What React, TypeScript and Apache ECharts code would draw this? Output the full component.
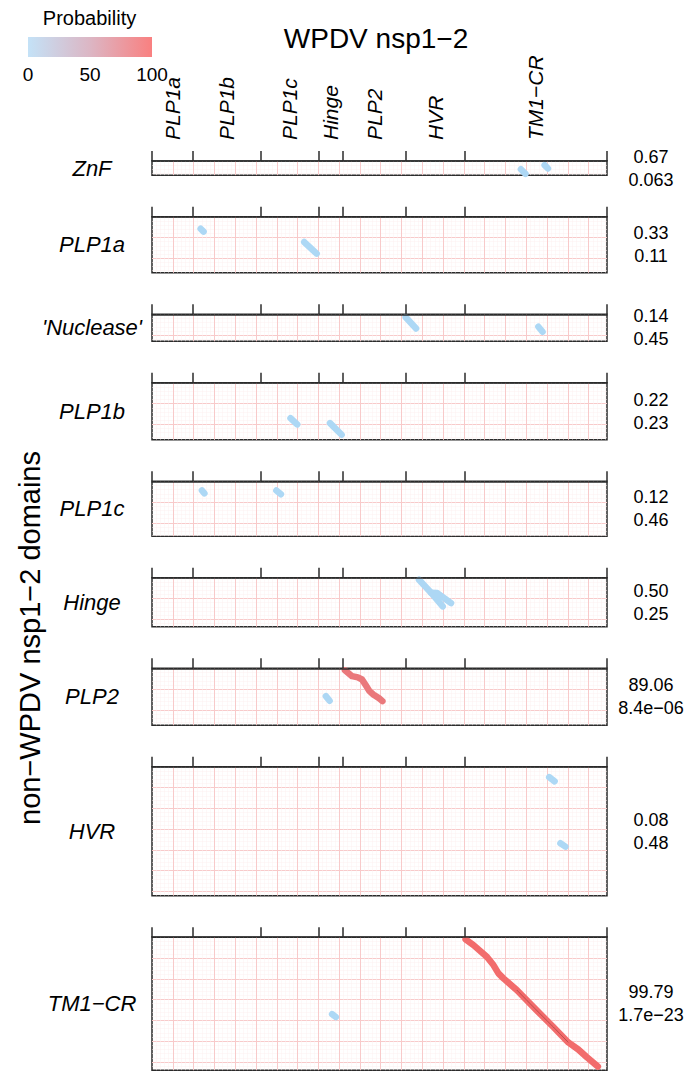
import React, { useEffect, useRef } from 'react';
import * as echarts from 'echarts';

// ---- data ----
const xDomains = ['PLP1a', 'PLP1b', 'PLP1c', 'Hinge', 'PLP2', 'HVR', 'TM1\u2212CR'];
const xBoundaries = [0, 99, 261, 402, 458, 610, 752, 1094];
const yDomains = ['ZnF', 'PLP1a', "'Nuclease'", 'PLP1b', 'PLP1c', 'Hinge', 'PLP2', 'HVR', 'TM1\u2212CR'];
const yLengths = [34, 135, 65, 137, 132, 118, 137, 310, 320];
const probabilities = ['0.67', '0.33', '0.14', '0.22', '0.12', '0.50', '89.06', '0.08', '99.79'];
const pValues = ['0.063', '0.11', '0.45', '0.23', '0.46', '0.25', '8.4e\u221206', '0.48', '1.7e\u221223'];
const legendTicks = [0, 50, 100];

const znfAlignments = [
  { prob: 0.67, points: [[887, 20], [898, 31]] },
  { prob: 0.67, points: [[944, 10], [952, 18]] },
];
const plp1aAlignments = [
  { prob: 0.33, points: [[117, 29], [124, 36]] },
  { prob: 0.33, points: [[366, 61], [396, 89]] },
];
const nucleaseAlignments = [
  { prob: 0.14, points: [[610, 7], [635, 34]] },
  { prob: 0.14, points: [[929, 30], [939, 42]] },
];
const plp1bAlignments = [
  { prob: 0.22, points: [[333, 85], [349, 100]] },
  { prob: 0.22, points: [[428, 97], [456, 125]] },
];
const plp1cAlignments = [
  { prob: 0.12, points: [[120, 22], [126, 29]] },
  { prob: 0.12, points: [[299, 22], [310, 31]] },
];
const hingeAlignments = [
  { prob: 0.5, points: [[642, 5], [671, 36], [699, 69]] },
  { prob: 0.5, points: [[671, 36], [686, 37], [719, 61]] },
];
const plp2Alignments = [
  { prob: 89.06, points: [[464, 5], [481, 19], [495, 22], [505, 27], [514, 41], [523, 55], [532, 63], [546, 72], [554, 79]] },
  { prob: 0.5, points: [[418, 67], [427, 78]] },
];
const hvrAlignments = [
  { prob: 0.08, points: [[955, 25], [968, 35]] },
  { prob: 0.08, points: [[982, 184], [994, 192]] },
];
const tm1Alignments = [
  { prob: 99.79, points: [[754, 5], [773, 19], [805, 47], [821, 67], [833, 87], [845, 99], [877, 127], [925, 176], [965, 216], [1001, 253], [1025, 270], [1045, 288], [1072, 311]] },
  { prob: 0.3, points: [[433, 185], [442, 192]] },
];
// thin raw dot-plot trace visible inside the strongest alignment
const tm1Trace = [[877, 127], [925, 176], [965, 216], [1001, 253]];

const panelAlignments = [
  znfAlignments, plp1aAlignments, nucleaseAlignments, plp1bAlignments, plp1cAlignments,
  hingeAlignments, plp2Alignments, hvrAlignments, tm1Alignments,
];

// ---- layout / style ----
const FONT = '"Liberation Sans", Arial, Helvetica, sans-serif';
const LEFT = 152;
const WIDTH = 455;
const TOP0 = 161;
const GAP = 41.5;
const MAJOR = '#f8caca';
const MINOR = '#fdf1f1';
const FRAME = '#2b2b2b';
const LOW = [173, 216, 245];
const HIGH = [242, 108, 108];

function probColor(p: number) {
  const t = Math.max(0, Math.min(1, p / 100));
  const c = LOW.map((v, k) => Math.round(v + (HIGH[k] - v) * t));
  return `rgb(${c[0]},${c[1]},${c[2]})`;
}

export default function App() {
  const ref = useRef<HTMLDivElement>(null);

  useEffect(() => {
    if (!ref.current) return;
    const chart = echarts.init(ref.current, undefined, { renderer: 'svg' });
    const XMAX = xBoundaries[xBoundaries.length - 1];
    const scale = WIDTH / XMAX;
    const tops: number[] = [];
    let t = TOP0;
    yLengths.forEach((len) => {
      tops.push(t);
      t += len * scale + GAP;
    });
    const heights = yLengths.map((l) => l * scale);
    const mids = xDomains.map((_, k) => (xBoundaries[k] + xBoundaries[k + 1]) / 2);

    const grids = yLengths.map((_, i) => ({
      left: LEFT,
      top: tops[i],
      width: WIDTH,
      height: heights[i],
      show: true,
      borderColor: FRAME,
      borderWidth: 1.5,
      backgroundColor: 'transparent',
      containLabel: false,
      outerBoundsMode: 'none',
    }));

    const xAxes: any[] = [];
    const yAxes: any[] = [];
    yLengths.forEach((len, i) => {
      xAxes.push({
        gridIndex: i,
        type: 'value',
        position: 'top',
        min: 0,
        max: XMAX,
        z: 5,
        axisLine: { show: true, lineStyle: { color: FRAME, width: 1.5 } },
        axisTick: {
          show: true,
          customValues: xBoundaries,
          length: 10,
          inside: false,
          lineStyle: { color: FRAME, width: 1.5 },
        },
        axisLabel:
          i === 0
            ? {
                show: true,
                customValues: mids,
                formatter: (v: number) => {
                  let best = 0;
                  mids.forEach((m, k) => {
                    if (Math.abs(m - v) < Math.abs(mids[best] - v)) best = k;
                  });
                  return xDomains[best];
                },
                rotate: 90,
                margin: 21,
                hideOverlap: false,
                interval: 0,
                color: '#000',
                fontSize: 21,
                fontStyle: 'italic',
                fontFamily: FONT,
              }
            : { show: false },
        splitLine: { show: false },
      });
      xAxes.push({
        gridIndex: i,
        type: 'value',
        position: 'bottom',
        min: 0,
        max: XMAX,
        interval: 50,
        z: 0,
        axisLine: { show: false },
        axisTick: { show: false },
        axisLabel: { show: false },
        minorTick: { show: false, splitNumber: 5 },
        splitLine: { show: true, showMinLine: false, showMaxLine: false, lineStyle: { color: MAJOR, width: 1 } },
        minorSplitLine: { show: true, lineStyle: { color: MINOR, width: 0.5 } },
      });
      yAxes.push({
        gridIndex: i,
        type: 'value',
        position: 'left',
        min: 0,
        max: len,
        inverse: true,
        interval: 50,
        z: 0,
        axisLine: { show: false },
        axisTick: { show: false },
        axisLabel: { show: false },
        minorTick: { show: false, splitNumber: 5 },
        splitLine: { show: true, showMinLine: false, showMaxLine: false, lineStyle: { color: MAJOR, width: 1 } },
        minorSplitLine: { show: true, lineStyle: { color: MINOR, width: 0.5 } },
      });
    });

    const series: any[] = [];
    panelAlignments.forEach((list, i) => {
      list.forEach((a) => {
        series.push({
          type: 'line',
          xAxisIndex: 2 * i + 1,
          yAxisIndex: i,
          data: a.points,
          symbol: 'none',
          showSymbol: false,
          silent: true,
          clip: true,
          z: 3,
          lineStyle: { width: 6.5, color: probColor(a.prob), cap: 'round', join: 'round' },
        });
      });
    });
    series.push({
      type: 'line',
      xAxisIndex: 2 * 8 + 1,
      yAxisIndex: 8,
      data: tm1Trace,
      symbol: 'none',
      showSymbol: false,
      silent: true,
      z: 4,
      lineStyle: { width: 0.8, color: 'rgba(110,40,40,0.55)' },
    });

    const graphics: any[] = [];
    graphics.push({
      type: 'text',
      x: 376,
      y: 38,
      style: { text: 'WPDV nsp1\u22122', fontSize: 28, fontFamily: FONT, fill: '#000', align: 'center', verticalAlign: 'middle' },
    });
    graphics.push({
      type: 'text',
      x: 30,
      y: 638,
      rotation: Math.PI / 2,
      style: { text: 'non\u2212WPDV nsp1\u22122 domains', fontSize: 29, fontFamily: FONT, fill: '#000', align: 'center', verticalAlign: 'middle' },
    });
    yDomains.forEach((name, i) => {
      const cy = tops[i] + heights[i] / 2;
      graphics.push({
        type: 'text',
        x: 92,
        y: cy,
        style: { text: name, fontSize: 22, fontStyle: 'italic', fontFamily: FONT, fill: '#000', align: 'center', verticalAlign: 'middle' },
      });
      graphics.push({
        type: 'text',
        x: 651,
        y: cy - 11.5,
        style: { text: probabilities[i], fontSize: 18, fontFamily: FONT, fill: '#000', align: 'center', verticalAlign: 'middle' },
      });
      graphics.push({
        type: 'text',
        x: 651,
        y: cy + 11.5,
        style: { text: pValues[i], fontSize: 18, fontFamily: FONT, fill: '#000', align: 'center', verticalAlign: 'middle' },
      });
    });
    // legend colour bar
    const barX = 28, barY = 37, barW = 124, barH = 20;
    graphics.push({
      type: 'text',
      x: 89.5,
      y: 18,
      style: { text: 'Probability', fontSize: 20, fontFamily: FONT, fill: '#000', align: 'center', verticalAlign: 'middle' },
    });
    graphics.push({
      type: 'rect',
      shape: { x: barX, y: barY, width: barW, height: barH },
      style: {
        fill: new echarts.graphic.LinearGradient(0, 0, 1, 0, [
          { offset: 0, color: '#c4e2f7' },
          { offset: 0.5, color: '#dcb6c4' },
          { offset: 1, color: '#f98080' },
        ]),
      },
    });
    legendTicks.forEach((v) => {
      graphics.push({
        type: 'text',
        x: barX + (v / 100) * barW,
        y: 74,
        style: { text: String(v), fontSize: 19, fontFamily: FONT, fill: '#000', align: 'center', verticalAlign: 'middle' },
      });
    });

    chart.setOption({
      animation: false,
      backgroundColor: '#fff',
      grid: grids,
      xAxis: xAxes,
      yAxis: yAxes,
      series,
      graphic: graphics,
    });
    return () => chart.dispose();
  }, []);

  return <div ref={ref} style={{ position: 'fixed', left: 0, top: 0, width: 688, height: 1073 }} />;
}
